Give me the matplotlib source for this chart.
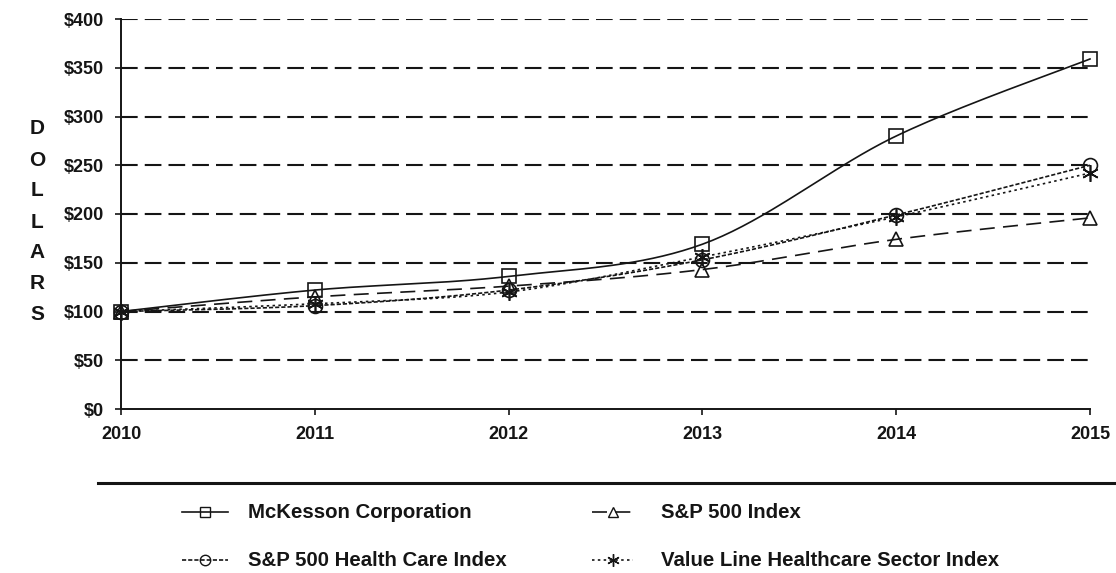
import numpy as np
import matplotlib
matplotlib.use("Agg")
import matplotlib.pyplot as plt
from matplotlib.lines import Line2D

plt.rcParams['font.family'] = ['Liberation Sans', 'DejaVu Sans']
plt.rcParams['font.weight'] = 'bold'

years = [2010, 2011, 2012, 2013, 2014, 2015]
mckesson = [100, 122, 136, 169, 280, 359]
sp500 = [100, 115, 126, 143, 174, 196]
sp_health = [100, 106, 122, 153, 199, 250]
value_line = [100, 108, 120, 156, 197, 242]
y_ticks = [0, 50, 100, 150, 200, 250, 300, 350, 400]
y_labels = ['$' + str(v) for v in y_ticks]

W, H = 1116, 573
fig = plt.figure(figsize=(W / 100, H / 100), dpi=100)
L, R, T, B = 121, 1090, 19, 409
ax = fig.add_axes([L / W, 1 - B / H, (R - L) / W, (B - T) / H])
ax.set_xlim(2010, 2015)
ax.set_ylim(0, 400)

def smooth(xs, ys, n=40):
    # Excel-style smoothed line (Bezier with control points from neighbours), in pixel space
    sx = (R - L) / 5.0
    sy = (B - T) / 400.0
    P = np.column_stack([(np.array(xs) - 2010) * sx, np.array(ys, float) * sy])
    out = []
    for i in range(len(P) - 1):
        p0 = P[i - 1] if i > 0 else P[i]
        p1, p2 = P[i], P[i + 1]
        p3 = P[i + 2] if i + 2 < len(P) else P[i + 1]
        c1 = p1 + (p2 - p0) / 6.0
        c2 = p2 - (p3 - p1) / 6.0
        t = np.linspace(0, 1, n)[:, None]
        seg = (1 - t) ** 3 * p1 + 3 * (1 - t) ** 2 * t * c1 + 3 * (1 - t) * t ** 2 * c2 + t ** 3 * p2
        out.append(seg if i == 0 else seg[1:])
    S = np.vstack(out)
    return S[:, 0] / sx + 2010, S[:, 1] / sy

INK = '#151515'
series = [
    (mckesson, '-', 's', 10, 'McKesson Corporation'),
    (sp500, (0, (9, 5)), '^', 10, 'S&P 500 Index'),
    (sp_health, (0, (2.5, 1.2)), 'o', 10, 'S&P 500 Health Care Index'),
    (value_line, (0, (1.5, 2)), (6, 2, 0), 12, 'Value Line Healthcare Sector Index'),
]

# gridlines
for v in y_ticks[1:]:
    ax.plot([2010, 2015], [v, v], color=INK, lw=1.5, ls=(0, (8, 3.4)), zorder=1)

for ys, ls, mk, ms, lab in series:
    sxs, sys_ = smooth(years, ys)
    ax.plot(sxs, sys_, color=INK, lw=1.2, ls=ls, zorder=3, clip_on=False)
    ax.plot(years, ys, ls='none', marker=mk, ms=ms, mfc='none', mec=INK, mew=1.2,
            zorder=4, clip_on=False)

for s in ['top', 'right']:
    ax.spines[s].set_visible(False)
for s in ['left', 'bottom']:
    ax.spines[s].set_linewidth(1.4)
    ax.spines[s].set_color(INK)

ax.set_yticks(y_ticks)
ax.set_yticklabels(y_labels, fontsize=13, fontweight='bold', color=INK)
ax.set_xticks(years)
ax.set_xticklabels([str(y) for y in years], fontsize=13, fontweight='bold', color=INK)
ax.tick_params(axis='both', direction='out', length=4.5, width=1.2, color=INK)
ax.tick_params(axis='y', pad=8)
ax.tick_params(axis='x', pad=8)

# vertical stacked y label
for i, ch in enumerate('DOLLARS'):
    fig.text(37 / W, 1 - (129 + i * 31) / H, ch, fontsize=15, fontweight='bold',
             ha='center', va='center', color=INK)

# separator line
fig.add_artist(Line2D([98 / W, 1.0], [1 - 483 / H, 1 - 483 / H], color=INK, lw=2.2))

# legend (manual)
entries = [
    (0, 0, series[0]), (1, 0, series[1]), (0, 1, series[2]), (1, 1, series[3])
]
cols = [(182, 228, 248), (592, 633, 661)]
rows = [512, 560]
for c, r, (ys, ls, mk, ms, lab) in entries:
    x0, x1, xt = cols[c]
    yy = 1 - rows[r] / H
    fig.add_artist(Line2D([x0 / W, x1 / W], [yy, yy], color=INK, lw=1.2, ls=ls))
    fig.add_artist(Line2D([(x0 + x1) / 2 / W], [yy], ls='none', marker=mk, ms=ms * 0.75,
                          mfc='none', mec=INK, mew=1.0))
    fig.text(xt / W, yy, lab, fontsize=14.7, fontweight='bold', va='center', ha='left',
             color=INK)

fig.savefig('out.png', dpi=100)
